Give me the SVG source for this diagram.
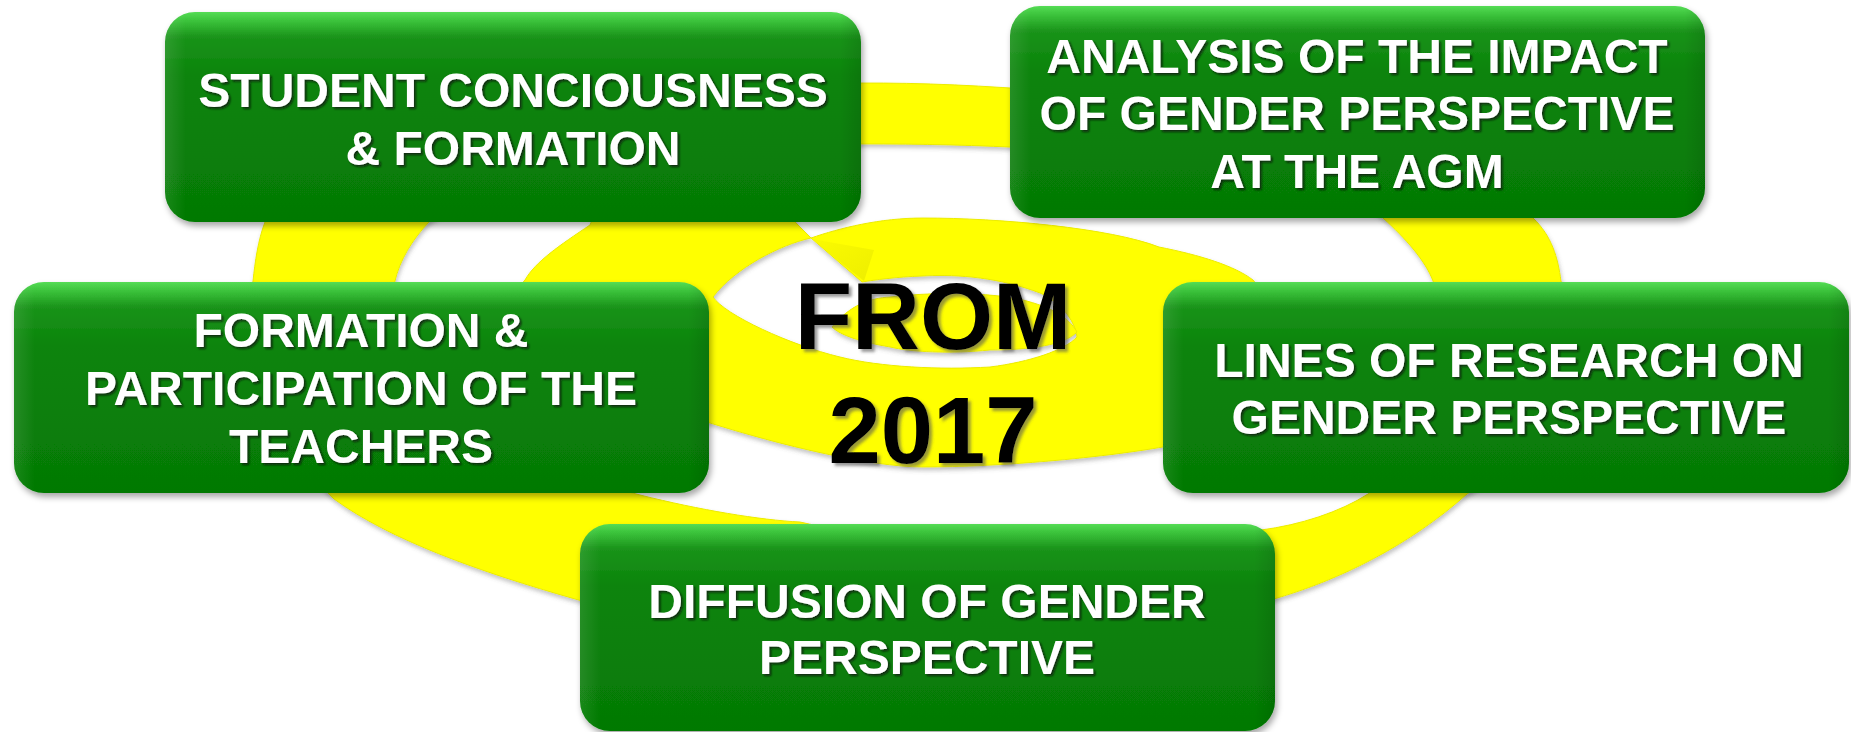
<svg xmlns="http://www.w3.org/2000/svg" width="1851" height="732" viewBox="0 0 1851 732">
<defs>
<linearGradient id="gBox" x1="0" y1="0" x2="0" y2="1">
<stop offset="0" stop-color="#55dc55"/>
<stop offset="0.04" stop-color="#3cc43c"/>
<stop offset="0.12" stop-color="#1a931a"/>
<stop offset="0.3" stop-color="#0b840b"/>
<stop offset="1" stop-color="#057905"/>
</linearGradient>
<linearGradient id="gSide" x1="0" y1="0" x2="1" y2="0">
<stop offset="0" stop-color="#ffffff" stop-opacity="0.10"/>
<stop offset="0.03" stop-color="#ffffff" stop-opacity="0"/>
<stop offset="0.97" stop-color="#000000" stop-opacity="0"/>
<stop offset="1" stop-color="#000000" stop-opacity="0.10"/>
</linearGradient>
<linearGradient id="gFold" x1="0" y1="0" x2="1" y2="1">
<stop offset="0" stop-color="#fafa00"/>
<stop offset="1" stop-color="#eaea00"/>
</linearGradient>
<filter id="boxShadow" x="-5%" y="-5%" width="110%" height="115%">
<feDropShadow dx="2" dy="4" stdDeviation="3" flood-color="#000" flood-opacity="0.35"/>
</filter>
<filter id="ySh" x="-5%" y="-5%" width="110%" height="115%">
<feDropShadow dx="1" dy="3" stdDeviation="2" flood-color="#555" flood-opacity="0.35"/>
</filter>
<filter id="wTxt" x="-5%" y="-20%" width="110%" height="140%">
<feDropShadow dx="2" dy="2" stdDeviation="1.2" flood-color="#111" flood-opacity="0.75"/>
</filter>
<filter id="bTxt" x="-5%" y="-20%" width="110%" height="140%">
<feDropShadow dx="3" dy="3" stdDeviation="1.5" flood-color="#555" flood-opacity="0.6"/>
</filter>
<style>
.box{fill:url(#gBox);filter:url(#boxShadow);}
.side{fill:url(#gSide);}
.t{font-family:"Liberation Sans",Arial,sans-serif;font-weight:bold;font-size:48px;fill:#ffffff;text-anchor:middle;filter:url(#wTxt);}
.c{font-family:"Liberation Sans",Arial,sans-serif;font-weight:bold;font-size:94px;fill:#000000;text-anchor:middle;filter:url(#bTxt);}
.y{fill:#ffff00;stroke:#ecec00;stroke-width:1;}
</style>
</defs>
<rect width="1851" height="732" fill="#ffffff"/>

<g id="spiral" filter="url(#ySh)">
<path class="y" fill-rule="evenodd" d="M 265,222 C 330,130 600,84 861,83 C 1100,82 1430,130 1533,218 C 1552,236 1558,258 1561,281 C 1585,350 1560,440 1467,494 C 1410,545 1340,580 1274,599 C 1050,665 800,665 575,599 C 480,572 390,540 334,499 C 270,440 240,340 253,281 C 255,262 258,240 265,222 Z M 429,222 C 500,170 700,145 861,144 C 1100,143 1330,170 1383,218 C 1405,238 1425,260 1433,281 C 1460,380 1420,460 1368,494 C 1340,512 1300,525 1261,530 C 1100,560 900,545 800,522 C 760,520 700,510 640,495 C 500,460 380,360 395,281 C 400,260 412,240 429,222 Z"/>
<path class="y" fill-rule="evenodd" d="M 600,200 L 795,200 L 795,222 L 811,238 C 840,228 880,218 923,218 C 1000,218 1110,228 1159,247 C 1200,255 1235,266 1253,280 C 1290,320 1260,420 1163,447 C 1100,458 1000,467 923,467 C 870,467 780,445 710,423 C 560,400 480,330 525,280 C 535,262 560,245 590,225 Z M 811,238 C 780,245 735,268 713,297 C 725,315 790,345 840,357 C 880,367 940,370 990,367 C 1030,362 1065,350 1077,337 C 1075,320 1060,302 1040,293 C 1000,278 960,274 923,276 C 895,277 875,280 862,282 Z"/>
<path class="y" d="M 832,327 C 850,305 870,298 890,297 C 930,292 990,292 1023,300 C 1050,307 1068,316 1077,332 C 1065,345 1030,350 990,350 C 950,354 910,352 890,347 C 860,342 840,335 832,327 Z"/>
<polygon points="812,239 874,250 864,281" fill="url(#gFold)" opacity="0.8"/>
</g>

<g id="center-label">
<text class="c" x="933" y="349">FROM</text>
<text class="c" x="933" y="463">2017</text>
</g>

<g id="node-student">
<rect class="box" x="165" y="12" width="696" height="210" rx="30"/>
<rect class="side" x="165" y="12" width="696" height="210" rx="30"/>
<text class="t" x="513" y="107">STUDENT CONCIOUSNESS</text>
<text class="t" x="513" y="165">&amp; FORMATION</text>
</g>

<g id="node-analysis">
<rect class="box" x="1010" y="6" width="695" height="212" rx="30"/>
<rect class="side" x="1010" y="6" width="695" height="212" rx="30"/>
<text class="t" x="1357" y="73">ANALYSIS OF THE IMPACT</text>
<text class="t" x="1357" y="130">OF GENDER PERSPECTIVE</text>
<text class="t" x="1357" y="188">AT THE AGM</text>
</g>

<g id="node-formation">
<rect class="box" x="14" y="282" width="695" height="211" rx="30"/>
<rect class="side" x="14" y="282" width="695" height="211" rx="30"/>
<text class="t" x="361" y="347">FORMATION &amp;</text>
<text class="t" x="361" y="405">PARTICIPATION OF THE</text>
<text class="t" x="361" y="463">TEACHERS</text>
</g>

<g id="node-lines">
<rect class="box" x="1163" y="282" width="686" height="211" rx="30"/>
<rect class="side" x="1163" y="282" width="686" height="211" rx="30"/>
<text class="t" x="1509" y="377">LINES OF RESEARCH ON</text>
<text class="t" x="1509" y="434">GENDER PERSPECTIVE</text>
</g>

<g id="node-diffusion">
<rect class="box" x="580" y="524" width="695" height="207" rx="30"/>
<rect class="side" x="580" y="524" width="695" height="207" rx="30"/>
<text class="t" x="927" y="618">DIFFUSION OF GENDER</text>
<text class="t" x="927" y="674">PERSPECTIVE</text>
</g>
</svg>
